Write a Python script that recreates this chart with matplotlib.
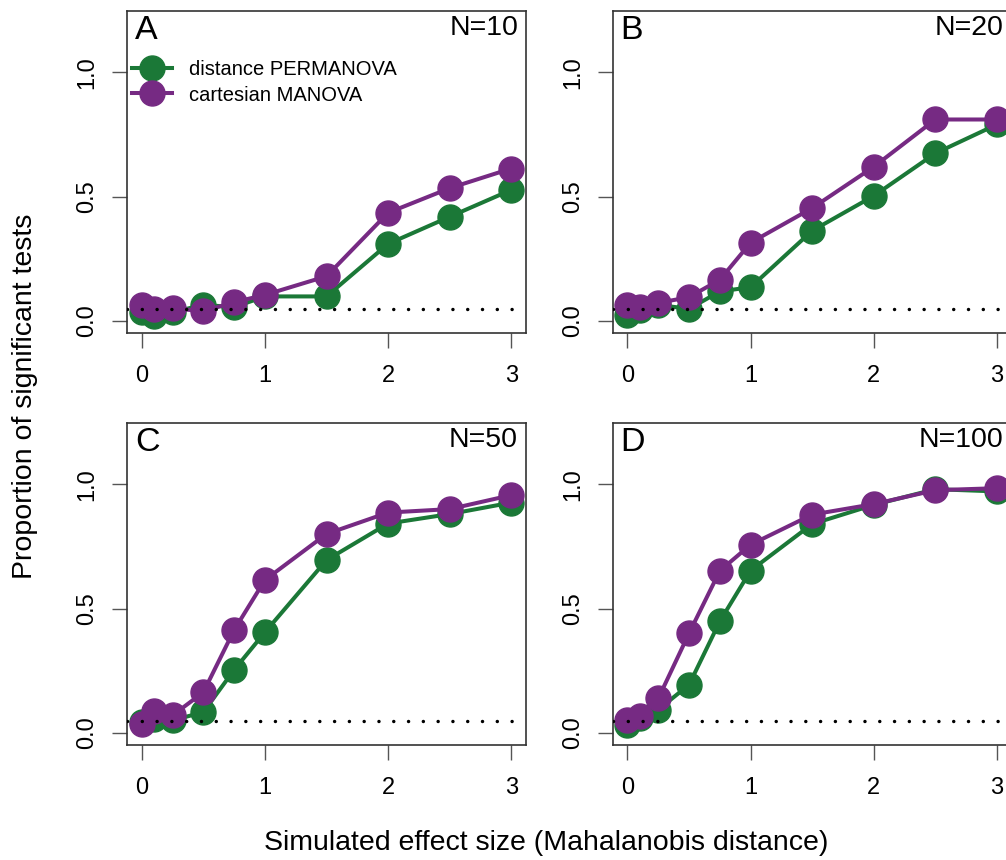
import matplotlib
matplotlib.use("Agg")
import matplotlib.pyplot as plt
from matplotlib.lines import Line2D

plt.rcParams['font.family'] = ['Liberation Sans', 'DejaVu Sans']

effect = [0, 0.1, 0.25, 0.5, 0.75, 1, 1.5, 2, 2.5, 3]

perm_N10 = [0.035, 0.02, 0.036, 0.065, 0.056, 0.099, 0.099, 0.31, 0.419, 0.527]
manova_N10 = [0.063, 0.049, 0.052, 0.039, 0.076, 0.105, 0.18, 0.435, 0.534, 0.613]

perm_N20 = [0.025, 0.043, 0.065, 0.049, 0.119, 0.136, 0.363, 0.503, 0.674, 0.79]
manova_N20 = [0.065, 0.056, 0.073, 0.096, 0.166, 0.315, 0.454, 0.62, 0.81, 0.81]

perm_N50 = [0.044, 0.057, 0.051, 0.084, 0.254, 0.405, 0.695, 0.842, 0.88, 0.926]
manova_N50 = [0.037, 0.087, 0.071, 0.164, 0.414, 0.615, 0.80, 0.886, 0.90, 0.956]

perm_N100 = [0.031, 0.06, 0.094, 0.194, 0.449, 0.653, 0.84, 0.917, 0.98, 0.971]
manova_N100 = [0.051, 0.067, 0.139, 0.401, 0.652, 0.757, 0.878, 0.92, 0.976, 0.984]

panel_letters = ["A", "B", "C", "D"]
panel_N = ["N=10", "N=20", "N=50", "N=100"]
series_labels = ["distance PERMANOVA", "cartesian MANOVA"]
alpha_level = 0.05

xticks = [0, 1, 2, 3]
yticks = [0.0, 0.5, 1.0]
ytick_labels = ["0.0", "0.5", "1.0"]

GREEN = "#1B7837"
PURPLE = "#762A83"

W, H = 1006, 860
fig = plt.figure(figsize=(W / 100, H / 100), dpi=100)

ax_w = 399 / W
ax_h = 322.5 / H
lefts = [127 / W, 612.7 / W]
bottoms = [1 - 333 / H, 1 - 745 / H]

data = [(perm_N10, manova_N10), (perm_N20, manova_N20),
        (perm_N50, manova_N50), (perm_N100, manova_N100)]

frame_col = "#333333"
for i in range(4):
    r, c = divmod(i, 2)
    ax = fig.add_axes([lefts[c], bottoms[r], ax_w, ax_h])
    perm, man = data[i]
    ax.plot(effect, perm, '-o', color=GREEN, lw=2.9, ms=18, mec=GREEN,
            label=series_labels[0], zorder=3, clip_on=False)
    ax.plot(effect, man, '-o', color=PURPLE, lw=2.9, ms=18, mec=PURPLE,
            label=series_labels[1], zorder=4, clip_on=False)
    ax.axhline(alpha_level, color='black', lw=2.5,
               linestyle=(0, (0.01, 4.25)), dash_capstyle='round', zorder=5)
    ax.set_xlim(-0.12, 3.12)
    ax.set_ylim(-0.048, 1.248)
    ax.set_xticks(xticks)
    ax.set_xticklabels([str(t) for t in xticks])
    ax.set_yticks(yticks)
    ax.set_yticklabels(ytick_labels, rotation=90, va='center')
    ax.tick_params(axis='both', direction='out', length=10.8, width=1.0,
                   color='#555555', labelsize=17)
    ax.tick_params(axis='x', pad=12.5)
    ax.tick_params(axis='y', pad=10)
    for s in ax.spines.values():
        s.set_color(frame_col)
        s.set_linewidth(1.2)
    ax.text(8 / 399, 1 - 4 / 322, panel_letters[i], transform=ax.transAxes,
            ha='left', va='top', fontsize=24.5)
    ax.text(1 - 8 / 399, 1 - 4 / 322, panel_N[i], transform=ax.transAxes,
            ha='right', va='top', fontsize=20.5)
    if i == 0:
        handles = [Line2D([], [], color=GREEN, lw=2.9, marker='o', ms=18),
                   Line2D([], [], color=PURPLE, lw=2.9, marker='o', ms=18)]
        ax.legend(handles, series_labels, loc='upper left',
                  bbox_to_anchor=(0.0125, 0.845), frameon=False,
                  fontsize=14.5, handlelength=2.0, handletextpad=0.85,
                  labelspacing=0.3, borderpad=0, borderaxespad=0)

fig.text(25 / W, 1 - 396 / H, "Proportion of significant tests", rotation=90,
         ha='center', va='center', fontsize=20.5)
fig.text(546 / W, 1 - 843 / H, "Simulated effect size (Mahalanobis distance)",
         ha='center', va='center', fontsize=20.5)

fig.savefig("out.png", dpi=100)
